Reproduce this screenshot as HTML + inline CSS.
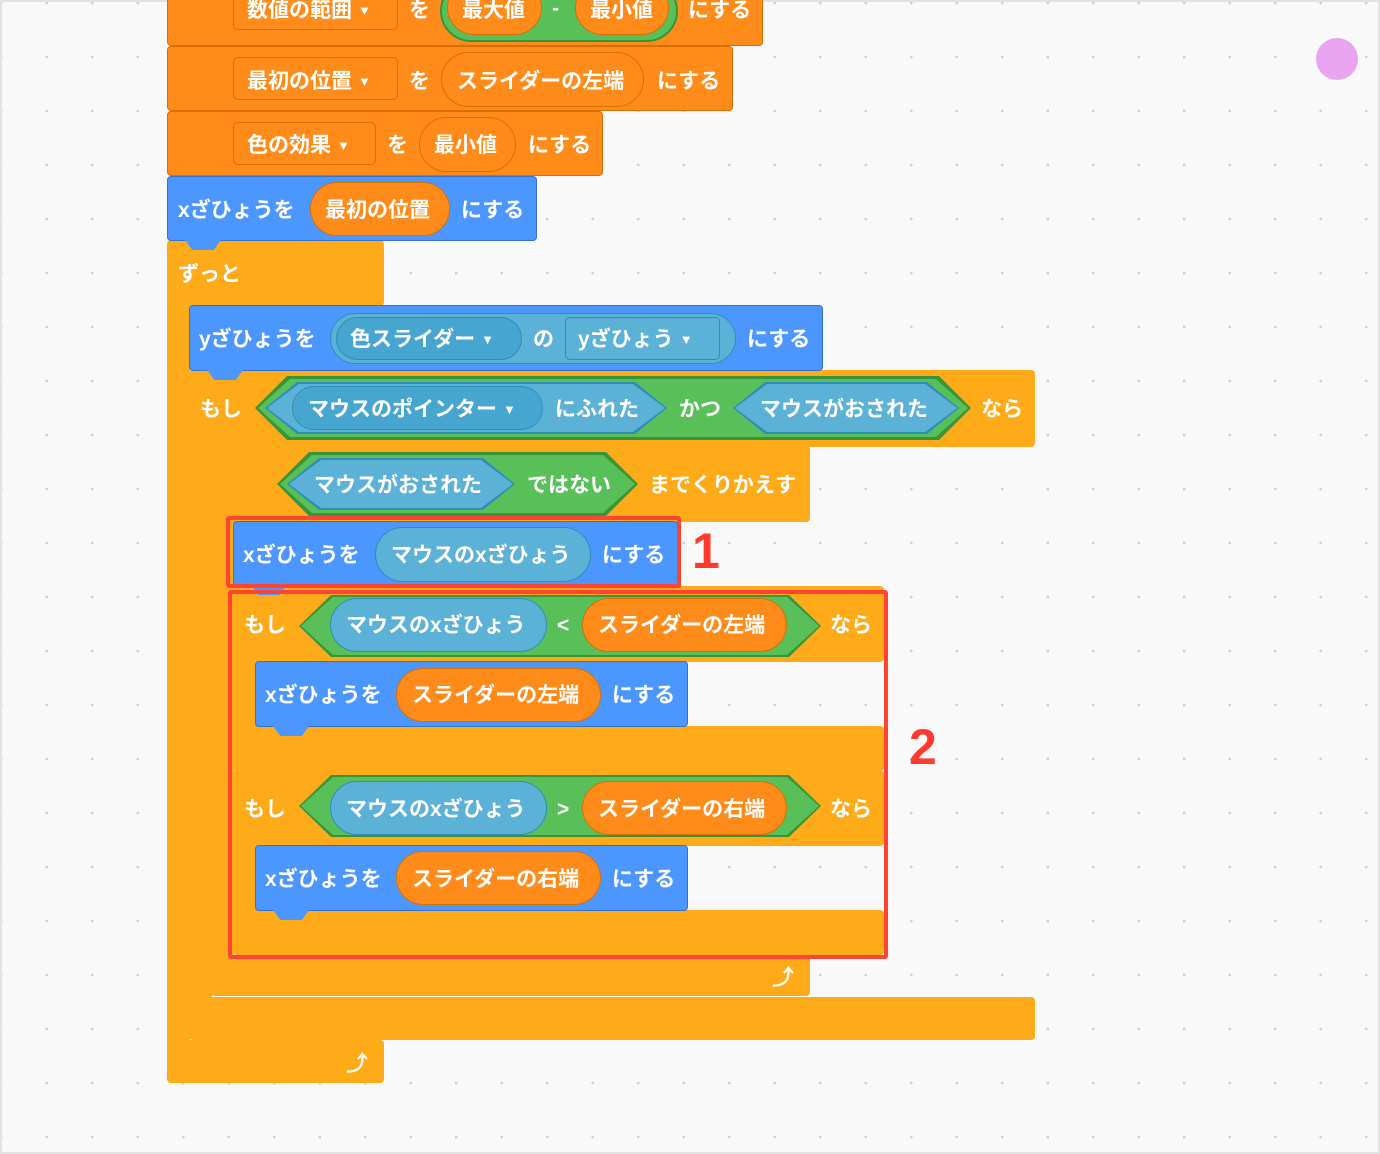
<!DOCTYPE html>
<html><head><meta charset="utf-8">
<style>
html,body{margin:0;padding:0}
body{width:1380px;height:1154px;position:relative;overflow:hidden;background:#f9f9f9;
background-image:radial-gradient(circle,#d0d0d0 1.2px,transparent 1.6px);background-size:45.5px 54px;background-position:24px 30px;}
.frame{position:absolute;left:0;top:0;width:1376px;height:1150px;border:2px solid #e2e2e2}
.b{position:absolute;border-radius:4px;box-sizing:border-box}
.ctl{background:#ffab19}
.var{background:#ff8c1a;border:1px solid #db6e00}
.mot{background:#4c97ff;border:1px solid #3373cc}
.t{position:absolute;color:#fff;font:bold 21px "Liberation Sans","Noto Sans CJK JP",sans-serif;transform:translateY(-50%);white-space:nowrap}
.t i{font-style:normal;font-size:13px;vertical-align:2px;margin-left:6px}
.ov{position:absolute;border-radius:999px;box-sizing:border-box}
.ovo{background:#ff8c1a;border:1px solid #db6e00}
.ovs{background:#5cb1d6;border:1px solid #2e8eb8}
.dd{position:absolute;border-radius:5px;box-sizing:border-box}
.ddo{background:#ff8c1a;border:1px solid #db6e00}
.dds{background:#47a6d0;border:1px solid #2e8eb8;border-radius:999px}
.hex{position:absolute;clip-path:polygon(32px 0,calc(100% - 32px) 0,100% 50%,calc(100% - 32px) 100%,32px 100%,0 50%)}
.tab{position:absolute;width:36px;height:10px;clip-path:polygon(0 0,100% 0,80% 100%,20% 100%)}
.red{position:absolute;border:4px solid #ff4433;box-sizing:border-box;border-radius:3px}
.num{position:absolute;color:#ff3b30;font:bold 50px "Liberation Sans",sans-serif}
</style></head><body>
<div class="frame"></div>
<div style="position:absolute;left:1316px;top:38px;width:42px;height:42px;border-radius:50%;background:#e9a3f0"></div>

<!-- forever C -->
<div class="b ctl" style="left:167px;top:240px;width:217px;height:66px"></div>
<div class="b ctl" style="left:167px;top:290px;width:23px;height:770px;border-radius:0"></div>
<div class="b ctl" style="left:167px;top:1040px;width:217px;height:43px"></div>
<div class="t" style="left:178px;top:273px">ずっと</div>
<div class="t" style="left:346px;top:1062px;font-size:22px">⤴</div>

<!-- if C big -->
<div class="b ctl" style="left:189px;top:370px;width:846px;height:77px"></div>
<div class="b ctl" style="left:189px;top:440px;width:23px;height:570px;border-radius:0"></div>
<div class="b ctl" style="left:189px;top:997px;width:846px;height:43px"></div>

<!-- repeat until C -->
<div class="b ctl" style="left:211px;top:446px;width:599px;height:76px"></div>
<div class="b ctl" style="left:211px;top:515px;width:23px;height:460px;border-radius:0"></div>
<div class="b ctl" style="left:211px;top:955px;width:599px;height:41px"></div>
<div class="t" style="left:772px;top:976px;font-size:22px">⤴</div>

<!-- if 1 -->
<div class="b ctl" style="left:233px;top:586px;width:651px;height:76px"></div>
<div class="b ctl" style="left:233px;top:655px;width:23px;height:80px;border-radius:0"></div>
<div class="b ctl" style="left:233px;top:726px;width:651px;height:45px"></div>
<!-- if 2 -->
<div class="b ctl" style="left:233px;top:770px;width:651px;height:76px"></div>
<div class="b ctl" style="left:233px;top:840px;width:23px;height:80px;border-radius:0"></div>
<div class="b ctl" style="left:233px;top:910px;width:651px;height:45px"></div>

<!-- block 1 top -->
<div class="b var" style="left:167px;top:-20px;width:596px;height:66px"></div>
<div class="dd ddo" style="left:233px;top:-20px;width:165px;height:50px"></div>
<div class="t" style="left:247px;top:9px">数値の範囲<i>▼</i></div>
<div class="t" style="left:409px;top:9px">を</div>
<div class="ov" style="left:440px;top:-20px;width:238px;height:62px;background:#59c059;border:2px solid #389438"></div>
<div class="ov ovo" style="left:447px;top:-20px;width:95px;height:55px"></div>
<div class="ov ovo" style="left:575px;top:-20px;width:94px;height:55px"></div>
<div class="t" style="left:462px;top:9px">最大値</div>
<div class="t" style="left:552px;top:9px">-</div>
<div class="t" style="left:590px;top:9px">最小値</div>
<div class="t" style="left:688px;top:9px">にする</div>

<!-- block 2 -->
<div class="b var" style="left:167px;top:46px;width:566px;height:65px"></div>
<div class="dd ddo" style="left:233px;top:57px;width:165px;height:43px"></div>
<div class="t" style="left:247px;top:80px">最初の位置<i>▼</i></div>
<div class="t" style="left:409px;top:80px">を</div>
<div class="ov ovo" style="left:441px;top:52px;width:203px;height:55px"></div>
<div class="t" style="left:457px;top:80px">スライダーの左端</div>
<div class="t" style="left:657px;top:80px">にする</div>

<!-- block 3 -->
<div class="b var" style="left:167px;top:111px;width:436px;height:65px"></div>
<div class="dd ddo" style="left:233px;top:122px;width:143px;height:43px"></div>
<div class="t" style="left:247px;top:144px">色の効果<i>▼</i></div>
<div class="t" style="left:387px;top:144px">を</div>
<div class="ov ovo" style="left:419px;top:117px;width:97px;height:55px"></div>
<div class="t" style="left:434px;top:144px">最小値</div>
<div class="t" style="left:528px;top:144px">にする</div>

<!-- block 4 blue -->
<div class="b mot" style="left:167px;top:176px;width:370px;height:65px"></div>
<div class="tab" style="left:185px;top:240px;background:#4c97ff"></div>
<div class="t" style="left:178px;top:209px">xざひょうを</div>
<div class="ov ovo" style="left:310px;top:182px;width:140px;height:54px"></div>
<div class="t" style="left:325px;top:209px">最初の位置</div>
<div class="t" style="left:461px;top:209px">にする</div>

<!-- y block -->
<div class="b mot" style="left:189px;top:305px;width:634px;height:66px"></div>
<div class="tab" style="left:207px;top:370px;background:#4c97ff"></div>
<div class="t" style="left:199px;top:338px">yざひょうを</div>
<div class="ov ovs" style="left:330px;top:313px;width:406px;height:51px"></div>
<div class="dd dds" style="left:336px;top:317px;width:186px;height:43px"></div>
<div class="t" style="left:350px;top:338px">色スライダー<i>▼</i></div>
<div class="t" style="left:533px;top:338px">の</div>
<div class="dd" style="left:565px;top:317px;width:155px;height:43px;background:#5cb1d6;border:1px solid #2e8eb8"></div>
<div class="t" style="left:578px;top:338px">yざひょう<i>▼</i></div>
<div class="t" style="left:747px;top:338px">にする</div>

<!-- if big condition -->
<div class="t" style="left:200px;top:408px">もし</div>
<div class="hex" style="left:255px;top:376px;width:716px;height:64px;background:#389438"></div>
<div class="hex" style="left:258px;top:379px;width:710px;height:58px;background:#59c059"></div>
<div class="hex" style="left:265px;top:382px;width:402px;height:52px;background:#2e8eb8"></div>
<div class="hex" style="left:267px;top:384px;width:398px;height:48px;background:#5cb1d6"></div>
<div class="dd dds" style="left:292px;top:386px;width:251px;height:44px"></div>
<div class="t" style="left:308px;top:408px">マウスのポインター<i>▼</i></div>
<div class="t" style="left:555px;top:408px">にふれた</div>
<div class="t" style="left:679px;top:408px">かつ</div>
<div class="hex" style="left:733px;top:382px;width:226px;height:52px;background:#2e8eb8"></div>
<div class="hex" style="left:735px;top:384px;width:222px;height:48px;background:#5cb1d6"></div>
<div class="t" style="left:760px;top:408px">マウスがおされた</div>
<div class="t" style="left:981px;top:408px">なら</div>

<!-- repeat condition -->
<div class="hex" style="left:277px;top:452px;width:361px;height:64px;background:#389438"></div>
<div class="hex" style="left:280px;top:455px;width:355px;height:58px;background:#59c059"></div>
<div class="hex" style="left:287px;top:458px;width:228px;height:52px;background:#2e8eb8"></div>
<div class="hex" style="left:289px;top:460px;width:224px;height:48px;background:#5cb1d6"></div>
<div class="t" style="left:314px;top:484px">マウスがおされた</div>
<div class="t" style="left:527px;top:484px">ではない</div>
<div class="t" style="left:649px;top:484px">までくりかえす</div>

<!-- x = mouse x -->
<div class="b mot" style="left:233px;top:521px;width:445px;height:65px"></div>
<div class="tab" style="left:251px;top:585px;background:#4c97ff"></div>
<div class="t" style="left:243px;top:554px">xざひょうを</div>
<div class="ov ovs" style="left:375px;top:527px;width:216px;height:55px"></div>
<div class="t" style="left:391px;top:554px">マウスのxざひょう</div>
<div class="t" style="left:602px;top:554px">にする</div>

<!-- if 1 content -->
<div class="t" style="left:244px;top:624px">もし</div>
<div class="hex" style="left:299px;top:595px;width:522px;height:62px;background:#389438"></div>
<div class="hex" style="left:301px;top:597px;width:518px;height:58px;background:#59c059"></div>
<div class="ov ovs" style="left:330px;top:598px;width:217px;height:54px"></div>
<div class="t" style="left:346px;top:624px">マウスのxざひょう</div>
<div class="t" style="left:557px;top:626px">&lt;</div>
<div class="ov ovo" style="left:582px;top:598px;width:205px;height:54px"></div>
<div class="t" style="left:598px;top:624px">スライダーの左端</div>
<div class="t" style="left:830px;top:624px">なら</div>
<div class="b mot" style="left:255px;top:661px;width:433px;height:66px"></div>
<div class="tab" style="left:273px;top:726px;background:#4c97ff"></div>
<div class="t" style="left:265px;top:694px">xざひょうを</div>
<div class="ov ovo" style="left:396px;top:668px;width:205px;height:54px"></div>
<div class="t" style="left:412px;top:694px">スライダーの左端</div>
<div class="t" style="left:612px;top:694px">にする</div>

<!-- if 2 content -->
<div class="t" style="left:244px;top:808px">もし</div>
<div class="hex" style="left:299px;top:775px;width:522px;height:62px;background:#389438"></div>
<div class="hex" style="left:301px;top:777px;width:518px;height:58px;background:#59c059"></div>
<div class="ov ovs" style="left:330px;top:781px;width:217px;height:54px"></div>
<div class="t" style="left:346px;top:808px">マウスのxざひょう</div>
<div class="t" style="left:557px;top:810px">&gt;</div>
<div class="ov ovo" style="left:582px;top:781px;width:205px;height:54px"></div>
<div class="t" style="left:598px;top:808px">スライダーの右端</div>
<div class="t" style="left:830px;top:808px">なら</div>
<div class="b mot" style="left:255px;top:845px;width:433px;height:66px"></div>
<div class="tab" style="left:273px;top:910px;background:#4c97ff"></div>
<div class="t" style="left:265px;top:878px">xざひょうを</div>
<div class="ov ovo" style="left:396px;top:851px;width:205px;height:54px"></div>
<div class="t" style="left:412px;top:878px">スライダーの右端</div>
<div class="t" style="left:612px;top:878px">にする</div>

<!-- highlights -->
<div class="red" style="left:226px;top:516px;width:455px;height:72px"></div>
<div class="num" style="left:692px;top:522px">1</div>
<div class="red" style="left:228px;top:590px;width:660px;height:369px"></div>
<div class="num" style="left:909px;top:718px">2</div>
</body></html>
